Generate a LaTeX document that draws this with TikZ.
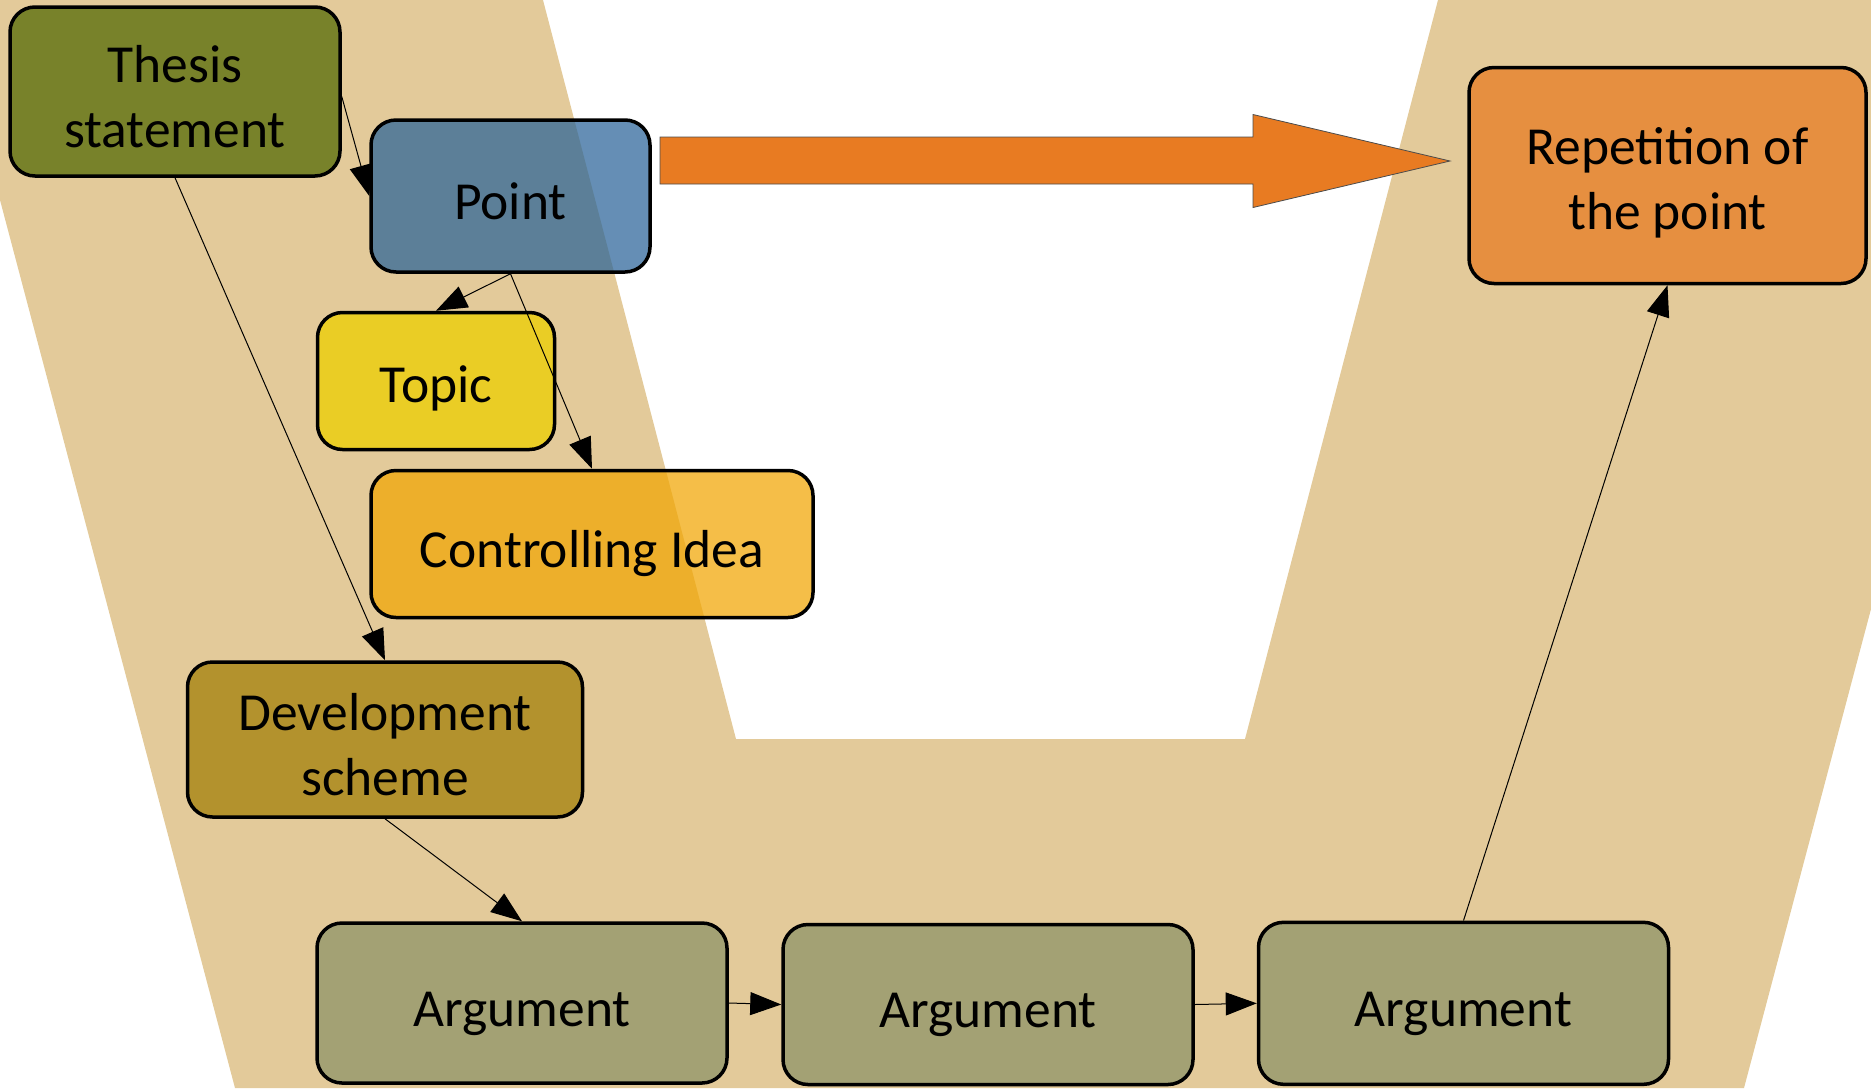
\documentclass[tikz,border=0pt]{standalone}
\usepackage{fontspec}
\setmainfont{Carlito}
\usetikzlibrary{arrows.meta}
\definecolor{tanc}{RGB}{227,202,154}
\definecolor{thesisc}{RGB}{120,130,42}
\definecolor{pointc}{RGB}{41,99,152}
\definecolor{topicc}{RGB}{234,205,37}
\definecolor{ctrlc}{RGB}{241,165,1}
\definecolor{devc}{RGB}{179,146,45}
\definecolor{argc}{RGB}{163,161,116}
\definecolor{repc}{RGB}{230,143,64}
\definecolor{bigarrowc}{RGB}{232,123,34}
\begin{document}
\begin{tikzpicture}[x=1pt,y=-1pt,
  box/.style={draw=black, line width=3.5pt, rounded corners=25pt, inner sep=0pt},
  txt/.style={align=center, inner sep=0pt, yshift=-5pt, text opacity=1, fill opacity=1,
    font=\fontsize{53.5}{65}\selectfont},
  conn/.style={line width=1pt, -{Triangle[length=31pt,width=23pt]}},
]
\useasboundingbox (0,0) rectangle (1871,1088);
% background band
\fill[tanc] (0,200) -- (0,0) -- (543,0) -- (736,739) -- (1245,739) -- (1438,0)
  -- (1871,0) -- (1871,609) -- (1744,1088) -- (235,1088) -- cycle;
% big orange arrow
\coordinate (batip) at (1450,161);
\filldraw[fill=bigarrowc, draw=black!70, line width=0.8pt]
  (660,137) -- (1253,137) -- (1253,114.5) -- (batip) -- (1253,207.5) -- (1253,184) -- (660,184) -- cycle;
% nodes
\node[box, fill=thesisc, minimum width=330pt, minimum height=169pt,
  label={[txt]center:{Thesis\\statement}}] (thesis) at (175,91.5) {};
\node[box, fill=pointc, fill opacity=0.72, minimum width=279pt, minimum height=152pt,
  label={[txt]center:Point}] (point) at (510.5,196) {};
\node[box, fill=topicc, minimum width=237pt, minimum height=137pt,
  label={[txt, yshift=-2.5pt]center:Topic}] (topic) at (436,381) {};
\node[box, fill=ctrlc, fill opacity=0.72, minimum width=442pt, minimum height=147pt,
  label={[txt, yshift=-4.5pt]center:Controlling Idea}] (ctrl) at (592,544) {};
\node[box, fill=devc, minimum width=395pt, minimum height=155pt,
  label={[txt]center:{Development\\scheme}}] (dev) at (385,739.5) {};
\node[box, fill=argc, minimum width=410pt, minimum height=160pt,
  label={[txt, yshift=-5.5pt]center:Argument}] (arg1) at (522,1003) {};
\node[box, fill=argc, minimum width=410pt, minimum height=160pt,
  label={[txt, yshift=-5.5pt]center:Argument}] (arg2) at (988,1004.5) {};
\node[box, fill=argc, minimum width=410pt, minimum height=162pt,
  label={[txt, yshift=-5.5pt]center:Argument}] (arg3) at (1463.5,1003.3) {};
\node[box, fill=repc, minimum width=397pt, minimum height=216pt,
  label={[txt, yshift=-2.5pt]center:{Repetition of\\the point}}] (rep) at (1667.5,175.5) {};
% connectors
\draw[conn] ([yshift=-5pt]thesis.east) -- (point.west);
\draw[conn] (thesis.south) -- (dev.north);
\draw[conn] (point.south) -- (topic.north);
\draw[conn] (point.south) -- (ctrl.north);
\draw[conn] (dev.south) -- (arg1.north);
\draw[conn] (arg1.east) -- (arg2.west);
\draw[conn] (arg2.east) -- (arg3.west);
\draw[conn] (arg3.north) -- (rep.south);
\end{tikzpicture}
\end{document}
